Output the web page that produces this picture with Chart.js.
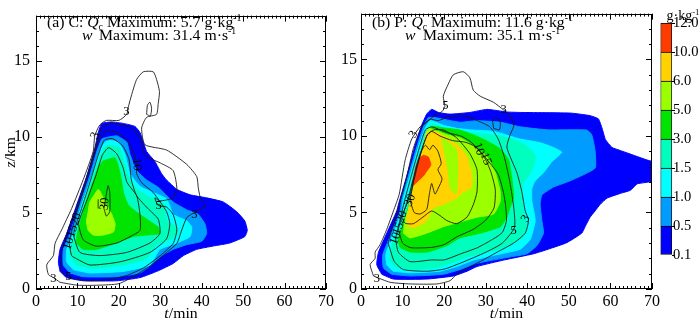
<!DOCTYPE html>
<html>
<head>
<meta charset="utf-8">
<script src="https://cdn.jsdelivr.net/npm/chart.js@4.4.0/dist/chart.umd.min.js"></script>
<style>
  html, body { margin: 0; padding: 0; background: #fff; }
  #wrap { position: relative; width: 700px; height: 322px; overflow: hidden; }
  #wrap canvas { position: absolute; top: 0; }
</style>
</head>
<body>
<div id="wrap">
  <canvas id="panelC" width="340" height="322" style="left:0"></canvas>
  <canvas id="panelP" width="360" height="322" style="left:340px"></canvas>
  <canvas id="colorbar" width="60" height="322" style="left:640px"></canvas>
</div>
<script>
// Qc shading levels (g/kg) and their colours
const levelLabels = ["0.1", "0.5", "1.0", "1.5", "3.0", "5.0", "6.0", "10.0", "12.0"];
const levelColors = ["#0000ff", "#009cff", "#00ffff", "#00ffbe", "#00e400", "#9bff00", "#ffd200", "#ff3c00"];

// axis ranges
const tRange = [0, 70];
const zRange = [0, 18];
const zTicks = [0, 5, 10, 15];

// ---- panel (a) C : filled Qc regions, [t (min), z (km)] ----
const cQc01 = [[5.8,1.16],[5.4,1.79],[5.8,2.61],[7.4,3.65],[9.8,5.52],[12.2,7.39],[14.2,9.25],[15,10.3],[15.9,10.9],[18.3,11.0],[21.1,10.9],[23.9,10.7],[25.1,10.3],[25.9,9.67],[26.7,9.05],[28.7,8.4],[30.3,7.6],[31.5,7.18],[34,6.56],[37.2,6.2],[41.2,6.0],[45.2,5.73],[48.4,5.1],[50.4,4.48],[51,3.86],[50.4,3.45],[46.8,3.03],[42.8,2.83],[38.8,2.61],[35.6,2.2],[33.1,1.68],[29.5,1.2],[25.1,0.75],[19.5,0.54],[11.4,0.54],[7.4,0.75],[5.8,1.16]];
const cQc05 = [[8.2,1.06],[6.6,1.58],[6.6,2.61],[8.2,3.65],[10.5,5.52],[12.9,7.39],[14.8,9.15],[15.9,9.88],[17.1,9.98],[19.5,10.08],[21.9,9.67],[22.7,8.84],[24.3,7.8],[26.7,7.18],[29.5,6.7],[33.1,5.73],[36.4,5.21],[39.2,4.9],[40.8,4.27],[41.2,3.65],[40,3.14],[36.4,2.92],[33.1,2.61],[29.9,2.1],[27.5,1.5],[25.1,1.06],[19.5,0.81],[11.4,0.81],[8.2,1.06]];
const cQc10 = [[9,1.27],[7.4,1.79],[7.4,2.61],[9,3.65],[11,5.52],[13.4,7.39],[15.3,9.05],[16.7,9.67],[17.9,9.77],[19.9,9.67],[21.5,8.84],[22.7,7.6],[25.1,6.76],[28.3,6.35],[31.5,5.94],[32.5,5.3],[33.1,4.9],[36.4,4.48],[37.6,4.07],[37.2,3.45],[34,3.03],[29.9,2.61],[27.5,1.58],[21.1,1.16],[13,1.06],[9,1.27]];
const cQc15 = [[9.8,1.58],[8.2,2.2],[8.6,3.03],[10,4.07],[11.8,5.73],[13.8,7.39],[15.6,8.84],[17.1,9.46],[18.3,9.46],[20.3,9.25],[21.1,8.43],[22.3,7.39],[24.3,6.56],[27.5,6.04],[31.1,5.52],[31.5,4.48],[34,4.07],[34.3,3.65],[32.3,3.24],[29.1,2.92],[26.7,1.99],[21.1,1.58],[13.8,1.37],[9.8,1.58]];
const cQc30 = [[16.2,8.43],[19.1,8.63],[20.3,7.6],[21.1,6.35],[22.3,5.52],[25.1,4.9],[27.9,4.38],[29.5,4.07],[29.9,3.65],[26.7,3.55],[23.5,3.45],[19.5,3.03],[14.6,2.61],[11.4,2.61],[9.8,3.03],[10,3.65],[11.4,5.1],[13.4,6.76],[15,8.0],[16.2,8.43]];
const cQc50 = [[14.2,6.25],[15,6.56],[15.4,6.45],[17.1,5.52],[18.3,4.9],[19.1,4.27],[18.7,3.76],[16.2,3.55],[13.8,3.55],[12.6,3.86],[12.2,4.48],[12.6,5.1],[13,5.73],[14.2,6.25]];

// ---- panel (a) C : w contours (m/s) ----
const cW3 = [[5.8,0.44],[4.2,0.75],[3,0.95],[2.6,1.6],[4.2,2.2],[4.6,3.0],[6.2,3.9],[8.6,5.3],[11.4,7.2],[13.8,9.05],[14.2,10.1],[15.4,10.8],[17,11.1],[20,11.1],[21.9,11.5],[22.3,12.0],[23.1,12.8],[24.3,13.8],[25.9,14.3],[28.3,14.3],[29.1,13.8],[29.8,13.0],[29.5,12.2],[29.1,11.5],[26.7,11.3],[25.5,10.6],[26.3,9.5],[31.5,9.15],[36.4,8.2],[38.8,7.4],[39.2,6.6],[39.8,5.9],[41,5.5],[40,5.3],[38,5.0],[36.4,4.7],[35.2,3.9],[34,3.0],[31.5,2.4],[28,1.6],[24,0.9],[20,0.35],[15,0.25],[10,0.25],[5.8,0.44]];
const cW3b = [[26.7,11.5],[26.9,12.1],[27.5,12.3],[27.9,11.9],[27.6,11.4],[26.7,11.5]];
const cW5 = [[7.8,0.75],[6.2,1.2],[6,2.2],[7,3.3],[9,4.8],[11.5,6.7],[13.5,8.5],[14.8,9.8],[16,10.6],[18,10.9],[21,10.8],[23.5,10.5],[25.2,9.9],[26.3,8.8],[30,8.3],[33.1,7.8],[34,6.6],[33.1,6.0],[29.9,5.8],[28.7,6.0],[29.5,5.5],[31.5,5.4],[33.1,4.9],[34,3.9],[33.1,3.0],[30,2.2],[26,1.4],[22,0.9],[17,0.6],[12,0.55],[7.8,0.75]];
const cW10 = [[8,3.0],[8.6,2.2],[9.8,1.99],[13,1.58],[20.3,1.79],[27.5,2.41],[31.5,3.3],[32.3,4.3],[31.5,5.1],[28.3,6.35],[25.5,7.0],[24.3,7.6],[24.3,8.2],[23.5,9.0],[22,9.8],[19.5,10.3],[17,10.4],[15.5,10.0],[14,8.8],[12,7.0],[10,5.2],[8.6,3.8],[8,3.0]];
const cW15 = [[9,3.55],[10.6,2.41],[15.4,2.2],[21.9,2.41],[27.5,3.03],[29.9,3.65],[29.5,4.6],[27,5.3],[24.3,6.14],[23,7.2],[22.5,8.5],[21,9.4],[18.5,9.9],[16.5,9.8],[15,8.8],[13,7],[11,5.3],[9.5,4.1],[9,3.55]];
const cW20 = [[10.2,4.27],[11.4,3.24],[14.6,2.82],[19.5,3.03],[22.7,3.45],[25.1,3.86],[25.1,4.9],[24.3,6.14],[22,7.0],[21,8.0],[19.5,8.9],[17.5,9.3],[16,8.8],[14.5,7.5],[12.5,6],[10.8,4.8],[10.2,4.27]];
const cW30 = [[16.4,5.3],[16.9,6.1],[17.4,6.8],[17.8,6.4],[17.8,5.1],[17,4.8],[16.4,5.3]];
const cW30b = [[15,5.3],[15,5.9]];
// contour labels: text, t, z, angle (deg)
const cLabels = [["3",4.2,0.7,0],["5",7.8,0.8,0],["10",7.9,3.0,-72],["15",8.8,3.8,-72],["20",9.7,4.6,-72],["30",16.6,5.6,-85],["10",24.3,8.2,85],["5",29.6,5.5,0],["3",38.2,4.9,0],["3",14.3,10.1,-68],["3",21.8,11.7,0]];

// ---- panel (b) P : filled Qc regions ----
const pQc01 = [[5,0.96],[3.8,1.58],[4.2,2.4],[6.2,3.65],[8.6,5.1],[9,5.52],[11,7.39],[13,9.36],[14.6,10.7],[15.8,11.43],[17,11.74],[18.6,11.54],[21.4,11.43],[26.2,11.54],[30.3,11.74],[35.1,11.57],[38.3,11.54],[50.3,11.5],[55.1,11.33],[57.1,11.12],[58,10.5],[58.8,9.77],[60.4,9.25],[62.4,9.05],[65.6,8.74],[68.8,8.43],[70,8.32],[70,7.07],[66.4,6.87],[64.8,6.45],[62.4,6.25],[59.2,5.94],[57.5,5.52],[56.3,5.1],[55.1,4.69],[53.9,4.07],[53.1,3.65],[49.5,3.03],[45,2.6],[41.5,2.3],[34.3,1.89],[27.9,1.47],[25.5,1.16],[22.2,0.85],[15.8,0.65],[7.8,0.65],[5,0.96]];
const pQc05 = [[7.4,0.96],[5.4,1.37],[5.2,2.2],[7,3.45],[9.4,5.1],[9.8,5.94],[11.6,7.6],[13.6,9.46],[15,10.6],[16.2,11.2],[17.8,11.2],[23.8,10.9],[27.9,11.0],[33.5,10.9],[38.3,10.6],[45,10.4],[54.3,10.39],[55.5,10.08],[56.3,9.05],[56.3,7.9],[50.3,7.07],[46.3,6.66],[43.5,6.14],[43.1,5.52],[43.5,4.48],[43.9,3.65],[42.3,2.83],[39.9,2.3],[35.9,2.1],[27.9,1.68],[23.8,1.27],[19.8,0.96],[11.8,0.85],[7.4,0.96]];
const pQc10 = [[7.8,1.16],[6.2,1.58],[6,2.3],[7.8,3.65],[9.8,5.1],[10.2,5.94],[12,7.6],[14,9.46],[15.4,10.5],[16.6,11.0],[18,10.9],[19.8,10.7],[23,10.5],[26.2,10.4],[31.9,10.3],[38.3,9.8],[43.1,9.56],[46.3,9.25],[48.3,8.94],[45.9,8.32],[43.9,7.6],[41.9,7.07],[41.1,6.56],[41.1,5.73],[41.9,4.48],[40.7,3.24],[38.3,2.6],[31.9,2.2],[27.1,1.89],[23,1.47],[19,1.16],[11.8,1.06],[7.8,1.16]];
const pQc15 = [[8.6,1.41],[7,1.89],[7.4,2.83],[9.4,4.07],[11,5.52],[11.8,6.5],[13.3,8.0],[14.8,9.5],[16,10.4],[17,10.8],[19,10.6],[22,10.3],[26.2,10.2],[33.5,10.0],[38.3,9.6],[40.7,9.15],[41.9,8.74],[41.5,8.0],[40.3,7.39],[39.1,6.97],[38.7,6.14],[39.1,5.1],[39.9,4.07],[39.1,3.45],[35.9,2.83],[30.3,2.41],[25.5,2.1],[21.4,1.68],[17.4,1.37],[11.8,1.27],[8.6,1.41]];
const pQc30 = [[11.8,2.41],[9.4,2.72],[9,3.24],[10.2,4.27],[11.8,5.73],[13,7.2],[14.5,8.8],[15.8,10.0],[17,10.6],[20.6,10.5],[23.8,10.39],[27,10.08],[30.3,9.67],[33.5,9.15],[35.5,8.43],[36.3,7.18],[36.7,5.94],[35.8,5.3],[35.1,4.69],[33.5,4.07],[28.7,3.65],[23.8,3.34],[20.6,2.83],[15.8,2.41],[11.8,2.41]];
const pQc50 = [[10.2,3.65],[10.6,4.48],[11.8,5.52],[13,7],[14.5,8.8],[15.5,10],[16.2,10.5],[20.6,10.08],[23.8,9.88],[27,9.36],[30.3,8.63],[32.3,7.6],[33.5,6.35],[33.5,5.73],[31.9,4.9],[27.9,4.69],[23.8,4.38],[19.8,4.07],[15.8,3.65],[11.8,3.34],[10.2,3.65]];
const pQc60 = [[11,4.69],[11.8,5.73],[13.2,7.2],[14.6,8.8],[15.4,9.8],[15.8,10.19],[17.8,10.29],[20.6,9.88],[23.8,9.25],[25.5,8.63],[26.7,7.39],[26.5,6.6],[24.6,6.35],[23,5.94],[19.8,5.52],[17.4,5.31],[15.8,4.48],[13.4,4.07],[11.4,4.07],[11,4.69]];
const pQc50b = [[19.4,9.9],[21,9.6],[23,9.1],[23.3,7.5],[22.8,6.2],[21.5,6.6],[20.8,8.0],[19.4,9.9]];
const pQc100 = [[15,8.74],[16.2,8.63],[16.8,8.11],[15.8,7.7],[15,7.39],[14.2,7.18],[12.2,6.7],[12.6,7.28],[13.2,8.0],[14,8.53],[15,8.74]];

// ---- panel (b) P : w contours ----
const pW3 = [[3,0.85],[2.2,1.6],[3.4,2.0],[3.4,2.4],[4.6,2.9],[6.2,3.9],[7.8,5.1],[9.2,6.2],[10.6,8.4],[12.2,9.8],[14.2,10.6],[15.4,10.8],[17.5,11.3],[19.5,11.6],[20.2,11.95],[19.8,12.6],[21,13.4],[22.2,14.0],[24.6,14.2],[26.2,13.8],[27,13.0],[28.7,12.6],[31.9,12.2],[34.3,11.7],[35.9,11.3],[36.8,10.7],[35.9,10.1],[35.1,9.25],[37.5,7.6],[38.7,6.35],[39.5,5.1],[40.3,4.5],[39.5,3.65],[36.7,3.0],[32.7,2.4],[28.7,1.8],[25.4,1.35],[23,0.96],[21.4,0.54],[18.2,0.33],[11.8,0.33],[7,0.44],[3,0.85]];
const pW3b = [[31.9,10.5],[31.7,11.0],[32.6,11.2],[33.5,10.9],[33.3,10.4],[31.9,10.5]];
const pW5 = [[6.5,3.0],[7,2.6],[8,1.8],[10.2,1.27],[15.8,1.16],[20,1.3],[24,1.7],[30,2.4],[34,3.0],[36.9,4.0],[36.8,5.2],[35.8,7.0],[34.5,8.6],[33,9.8],[31,10.6],[28,11.0],[25,11.3],[23,11.3],[20.5,11.2],[18.5,11.0],[16.6,11.1],[14.6,10.6],[12.6,9.2],[11,7.3],[9.2,5.5],[7.6,4.1],[6.5,3.0]];
const pW10 = [[8.3,3.3],[9,2.4],[11.8,1.79],[17,1.9],[20,1.9],[24,2.3],[28,2.7],[32,3.3],[34,3.7],[35,4.5],[34.5,6],[33,7.5],[30.5,8.4],[28.2,9.15],[26,9.7],[24,10.0],[21,10.2],[19,10.4],[17,10.6],[15.5,10.4],[14,9.2],[12.2,7.5],[10.5,5.8],[9.2,4.3],[8.3,3.3]];
const pW15 = [[9,3.95],[10,3.0],[12,2.7],[17,2.72],[20,2.9],[23,3.4],[27,3.9],[30,4.5],[32,5.3],[32.3,6.5],[31.3,7.6],[29.9,8.5],[27.5,9.3],[25,9.6],[22,9.7],[19,10.0],[17,10.3],[15.8,10.0],[14.3,8.8],[12.6,7.2],[11,5.6],[9.8,4.7],[9,3.95]];
const pW20 = [[9.8,4.7],[10.6,4.3],[12.6,4.27],[14.9,4.7],[17,5.1],[19,4.8],[20.6,4.48],[23,4.27],[25.5,4.7],[27,5.5],[27.9,6.35],[27.9,7.8],[26.2,8.84],[23,9.88],[19.8,10.4],[17.5,10.4],[16,10.1],[14.5,9.0],[13,7.4],[11.6,6.0],[9.8,4.7]];
const pW30 = [[11.8,5.8],[12.6,7.0],[13.3,8.0],[14.3,8.9],[15.5,9.4],[16.5,9.1],[17.3,9.4],[18.5,9.0],[19.3,8.2],[18.5,7.8],[19.5,7.2],[18.6,6.6],[17.8,6.2],[17,6.9],[16.5,6.3],[15.8,5.2],[14.2,4.9],[12.8,5.0],[11.8,5.8]];
const pLabels = [["3",3.8,0.65,0],["10",8.3,3.3,-70],["15",9.0,3.95,-70],["20",9.8,4.7,-70],["30",11.8,5.8,-70],["5",20.3,12.0,0],["3",34.3,11.7,0],["10",28.3,9.15,70],["15",30.0,8.5,70],["5",36.7,3.8,0],["3",39.6,4.6,-60],["3",12.6,10.1,-60]];

const SERIF = '"Liberation Serif", "Times New Roman", serif';
const TEXT_STRETCH = 1.05; // reference type is a little wider than Liberation Serif

function toXY(pts) {
  return pts.map(p => ({ x: p[0], y: p[1] }));
}

function fillSet(pts, color) {
  return {
    data: toXY(pts), borderColor: color, backgroundColor: color, borderWidth: 1,
    fill: "shape", pointRadius: 0, tension: 0.15,
  };
}

function lineSet(pts) {
  return {
    data: toXY(pts), borderColor: "#1c1c1c", borderWidth: 0.9,
    fill: false, pointRadius: 0, tension: 0.2,
  };
}

// draw text made of pieces (italic, subscript, superscript)
function richText(ctx, x, y, parts, size, stretch = TEXT_STRETCH) {
  ctx.save();
  ctx.translate(x, y);
  ctx.scale(stretch, 1);
  let cx = 0;
  for (const p of parts) {
    let fs = size, dy = 0;
    if (p.sub) { fs = size * 0.62; dy = size * 0.2; }
    if (p.sup) { fs = size * 0.62; dy = -size * 0.38; }
    ctx.font = (p.i ? "italic " : "") + fs + "px " + SERIF;
    ctx.fillText(p.t, cx, dy);
    cx += ctx.measureText(p.t).width;
  }
  ctx.restore();
  return cx * stretch;
}

function richWidth(ctx, parts, size) {
  let w = 0;
  for (const p of parts) {
    const fs = (p.sub || p.sup) ? size * 0.62 : size;
    ctx.font = (p.i ? "italic " : "") + fs + "px " + SERIF;
    w += ctx.measureText(p.t).width;
  }
  return w * TEXT_STRETCH;
}

function panelPlugin(cfg) {
  return {
    id: "panelDecor",
    afterDatasetsDraw(chart) {
      const { ctx, chartArea: a, scales: { x, y } } = chart;
      ctx.save();
      // contour labels
      ctx.fillStyle = "#000";
      ctx.textAlign = "center";
      ctx.textBaseline = "middle";
      ctx.font = "12.5px " + SERIF;
      for (const [txt, t, z, ang] of cfg.labels) {
        ctx.save();
        ctx.translate(x.getPixelForValue(t), y.getPixelForValue(z));
        ctx.rotate(ang * Math.PI / 180);
        ctx.fillText(txt, 0, 0);
        ctx.restore();
      }
      // frame + inward ticks
      ctx.strokeStyle = "#000";
      ctx.lineWidth = 1;
      ctx.strokeRect(Math.round(a.left) + 0.5, Math.round(a.top) + 0.5,
        Math.round(a.right - a.left) - 1, Math.round(a.bottom - a.top) - 1);
      ctx.beginPath();
      for (let t = tRange[0]; t <= tRange[1]; t++) {
        const px = Math.round(x.getPixelForValue(t)) + 0.5;
        const len = t % 10 === 0 ? 6 : 3;
        ctx.moveTo(px, a.bottom); ctx.lineTo(px, a.bottom - len);
        ctx.moveTo(px, a.top); ctx.lineTo(px, a.top + len);
      }
      for (let z = zRange[0]; z <= zRange[1]; z++) {
        const py = Math.round(y.getPixelForValue(z)) + 0.5;
        const len = z % 5 === 0 ? 6 : 3;
        ctx.moveTo(a.left, py); ctx.lineTo(a.left + len, py);
        ctx.moveTo(a.right, py); ctx.lineTo(a.right - len, py);
      }
      ctx.stroke();
      ctx.restore();
    },
    afterDraw(chart) {
      const { ctx, chartArea: a } = chart;
      ctx.save();
      ctx.fillStyle = "#000";
      ctx.textBaseline = "alphabetic";
      ctx.textAlign = "left";
      richText(ctx, cfg.titleX, 27, cfg.line1, 15);
      richText(ctx, cfg.wX, 40, [{ t: "w", i: 1 }], 15);
      richText(ctx, cfg.maxX, 40, cfg.line2, 15);
      // x axis title
      const xt = [{ t: "t", i: 1 }, { t: "/min" }];
      const w = richWidth(ctx, xt, 15);
      richText(ctx, (a.left + a.right) / 2 - w / 2, 318, xt, 15);
      if (cfg.yTitle) {
        const zt = [{ t: "z", i: 1 }, { t: "/km" }];
        const wz = richWidth(ctx, zt, 15);
        ctx.translate(15, (a.top + a.bottom) / 2);
        ctx.rotate(-Math.PI / 2);
        richText(ctx, -wz / 2, 0, zt, 15);
      }
      ctx.restore();
    },
  };
}

function makePanel(canvasId, fills, lines, cfg) {
  const sets = [];
  fills.forEach(f => sets.push(fillSet(f[0], f[1])));
  lines.forEach(l => sets.push(lineSet(l)));
  // first entry at the bottom of the drawing stack
  sets.forEach((s, i) => { s.order = sets.length - i; });
  return new Chart(document.getElementById(canvasId), {
    type: "line",
    data: { datasets: sets },
    options: {
      responsive: false,
      animation: false,
      devicePixelRatio: 1,
      layout: { padding: { top: 1, right: cfg.padRight, left: 0, bottom: 0 } },
      plugins: { legend: { display: false }, tooltip: { enabled: false } },
      scales: {
        x: {
          type: "linear", min: tRange[0], max: tRange[1],
          grid: { display: false, drawTicks: false }, border: { display: false },
          ticks: { stepSize: 10, padding: 3, color: "#000", font: { family: SERIF, size: 16 } },
          afterFit: s => { s.height = 33; },
        },
        y: {
          type: "linear", min: zRange[0], max: zRange[1],
          grid: { display: false, drawTicks: false }, border: { display: false },
          afterBuildTicks: s => { s.ticks = zTicks.map(v => ({ value: v })); },
          ticks: { padding: cfg.yPad, color: "#000", font: { family: SERIF, size: 16 } },
          afterFit: s => { s.width = cfg.yWidth; },
        },
      },
    },
    plugins: [panelPlugin(cfg)],
  });
}

makePanel("panelC",
  [[cQc01, levelColors[0]], [cQc05, levelColors[1]], [cQc10, levelColors[2]], [cQc15, levelColors[3]],
   [cQc30, levelColors[4]], [cQc50, levelColors[5]]],
  [cW3, cW3b, cW5, cW10, cW15, cW20, cW30, cW30b],
  {
    padRight: 14, yWidth: 36, yPad: 6, yTitle: true, labels: cLabels,
    titleX: 47, wX: 82, maxX: 99,
    line1: [{ t: "(a) C: " }, { t: "Q", i: 1 }, { t: "c", sub: 1 }, { t: " Maximum: 5.7 g·kg" }, { t: "-1", sup: 1 }],
    line2: [{ t: "Maximum: 31.4 m·s" }, { t: "-1", sup: 1 }],
  });

makePanel("panelP",
  [[pQc01, levelColors[0]], [pQc05, levelColors[1]], [pQc10, levelColors[2]], [pQc15, levelColors[3]],
   [pQc30, levelColors[4]], [pQc50, levelColors[5]], [pQc60, levelColors[6]], [pQc50b, levelColors[5]],
   [pQc100, levelColors[7]]],
  [pW3, pW3b, pW5, pW10, pW15, pW20, pW30],
  {
    padRight: 48, yWidth: 21, yPad: 4, yTitle: false, labels: pLabels,
    titleX: 32, wX: 65, maxX: 83,
    line1: [{ t: "(b) P: " }, { t: "Q", i: 1 }, { t: "c", sub: 1 }, { t: " Maximum: 11.6 g·kg" }, { t: "-1", sup: 1 }],
    line2: [{ t: "Maximum: 35.1 m·s" }, { t: "-1", sup: 1 }],
  });

// colour bar: 8 stacked unit bars, one per shading band
const barSets = levelColors.map((c, i) => ({
  data: [1], backgroundColor: c, borderColor: "#000",
  borderWidth: i === 0 ? 1 : { top: 1, left: 1, right: 1, bottom: 0 },
  borderSkipped: false, barPercentage: 1, categoryPercentage: 1,
}));

new Chart(document.getElementById("colorbar"), {
  type: "bar",
  data: { labels: [""], datasets: barSets },
  options: {
    responsive: false,
    animation: false,
    devicePixelRatio: 1,
    layout: { padding: { top: 23, bottom: 67, left: 20.5, right: 0 } },
    plugins: { legend: { display: false }, tooltip: { enabled: false } },
    scales: {
      x: { display: false, stacked: true },
      y: {
        position: "right", stacked: true, min: 0, max: 8,
        grid: { drawOnChartArea: false, tickLength: 3, color: "#000" },
        border: { display: false },
        ticks: { stepSize: 1, padding: -2, color: "#000", font: { family: SERIF, size: 14.5 },
          callback: v => levelLabels[v] },
        afterFit: s => { s.width = 28; },
      },
    },
  },
  plugins: [{
    id: "unitLabel",
    afterDraw(chart) {
      const ctx = chart.ctx;
      ctx.save();
      ctx.fillStyle = "#000";
      ctx.textBaseline = "alphabetic";
      richText(ctx, 26.5, 20, [{ t: "g·kg" }, { t: "-1", sup: 1 }], 14, 1);
      ctx.restore();
    },
  }],
});
</script>
</body>
</html>
